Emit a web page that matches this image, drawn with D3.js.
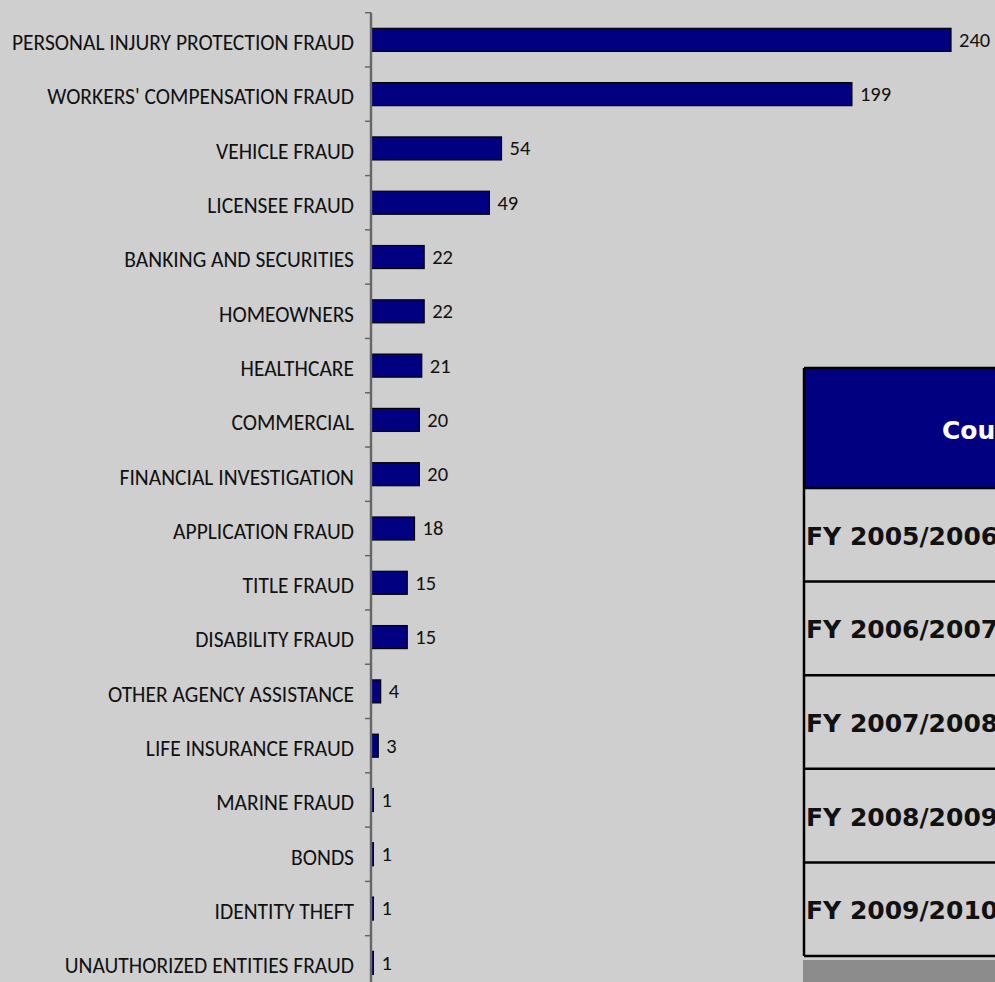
<!DOCTYPE html>
<html>
<head>
<meta charset="utf-8">
<script src="https://cdn.jsdelivr.net/npm/d3@7"></script>
<style>
  body { margin: 0; background: #cfcfcf; overflow: hidden; }
  svg { display: block; }
</style>
</head>
<body>
<div id="chart"></div>
<script>
// fraud referrals by category
var categories = [
  "PERSONAL INJURY PROTECTION FRAUD", "WORKERS' COMPENSATION FRAUD", "VEHICLE FRAUD",
  "LICENSEE FRAUD", "BANKING AND SECURITIES", "HOMEOWNERS", "HEALTHCARE", "COMMERCIAL",
  "FINANCIAL INVESTIGATION", "APPLICATION FRAUD", "TITLE FRAUD", "DISABILITY FRAUD",
  "OTHER AGENCY ASSISTANCE", "LIFE INSURANCE FRAUD", "MARINE FRAUD", "BONDS",
  "IDENTITY THEFT", "UNAUTHORIZED ENTITIES FRAUD"
];
var counts = [240, 199, 54, 49, 22, 22, 21, 20, 20, 18, 15, 15, 4, 3, 1, 1, 1, 1];

// table at right (cut off by the page edge)
var tableHeader = "Count";
var fiscalYears = ["FY 2005/2006", "FY 2006/2007", "FY 2007/2008", "FY 2008/2009", "FY 2009/2010"];

var W = 995, H = 982;
var labelFont = "Carlito, 'Open Sans', sans-serif";

var svg = d3.select("#chart").append("svg")
    .attr("width", W)
    .attr("height", H);

var x = d3.scaleLinear().domain([0, 240]).range([371, 951]);
var y = d3.scaleBand().domain(categories).range([12.7, 990]).paddingInner(0.576).paddingOuter(0.288);
var step = y.step();

// bars
svg.append("g").selectAll("rect").data(categories).enter().append("rect")
    .attr("x", x(0))
    .attr("y", function(d) { return y(d); })
    .attr("width", function(d, i) { return x(counts[i]) - x(0); })
    .attr("height", y.bandwidth())
    .attr("fill", "#000080")
    .attr("stroke", "#000")
    .attr("stroke-width", 1.2);

// axis line + ticks
var ticks = d3.range(categories.length + 1).map(function(i) { return 12.7 + i * step; });
svg.append("line")
    .attr("x1", x(0)).attr("x2", x(0))
    .attr("y1", 12.7).attr("y2", H)
    .attr("stroke", "#666").attr("stroke-width", 2.4);
svg.append("g").selectAll("line").data(ticks).enter().append("line")
    .attr("x1", x(0) - 6).attr("x2", x(0))
    .attr("y1", function(d) { return d; }).attr("y2", function(d) { return d; })
    .attr("stroke", "#666").attr("stroke-width", 1.5);

// category labels
svg.append("g").selectAll("text").data(categories).enter().append("text")
    .attr("x", 354)
    .attr("y", function(d) { return y(d) + y.bandwidth() / 2 + 10.3; })
    .attr("text-anchor", "end")
    .style("font-family", labelFont)
    .style("font-size", "21.5px")
    .style("fill", "#111")
    .text(function(d) { return d; });

// value labels
svg.append("g").selectAll("text").data(categories).enter().append("text")
    .attr("x", function(d, i) { return x(counts[i]) + 8; })
    .attr("y", function(d) { return y(d) + y.bandwidth() / 2 + 6.9; })
    .style("font-family", labelFont)
    .style("font-size", "20.5px")
    .style("fill", "#111")
    .text(function(d, i) { return counts[i]; });

// table
var tLeft = 804, tTop = 368, headH = 120, rowH = 93.6;
var table = svg.append("g");
table.append("rect")
    .attr("x", tLeft).attr("y", tTop)
    .attr("width", W).attr("height", headH)
    .attr("fill", "#000080");
table.append("text")
    .attr("x", 942).attr("y", 439)
    .style("font-family", "Verdana, 'DejaVu Sans', sans-serif")
    .style("font-weight", "bold")
    .style("font-size", "25px")
    .style("fill", "#fff")
    .text(tableHeader);

table.selectAll("text.fy").data(fiscalYears).enter().append("text")
    .attr("class", "fy")
    .attr("x", 806)
    .attr("y", function(d, i) { return tTop + headH + i * rowH + rowH / 2 + 10; })
    .style("font-family", "Verdana, 'DejaVu Sans', sans-serif")
    .style("font-weight", "bold")
    .style("font-size", "25px")
    .style("fill", "#111")
    .text(function(d) { return d; });

// grid lines of table
var rowLines = d3.range(fiscalYears.length + 1).map(function(i) { return tTop + headH + i * rowH; });
table.selectAll("line.row").data(rowLines).enter().append("line")
    .attr("class", "row")
    .attr("x1", tLeft).attr("x2", W)
    .attr("y1", function(d) { return d; }).attr("y2", function(d) { return d; })
    .attr("stroke", "#000").attr("stroke-width", 2.5);
table.append("line")
    .attr("x1", tLeft).attr("x2", W)
    .attr("y1", tTop).attr("y2", tTop)
    .attr("stroke", "#000").attr("stroke-width", 2.5);
table.append("line")
    .attr("x1", tLeft).attr("x2", tLeft)
    .attr("y1", tTop).attr("y2", rowLines[rowLines.length - 1])
    .attr("stroke", "#000").attr("stroke-width", 2.5);

// shadow strip below table
table.append("rect")
    .attr("x", 803).attr("y", 960)
    .attr("width", W).attr("height", 30)
    .attr("fill", "#8c8c8c");
</script>
</body>
</html>
